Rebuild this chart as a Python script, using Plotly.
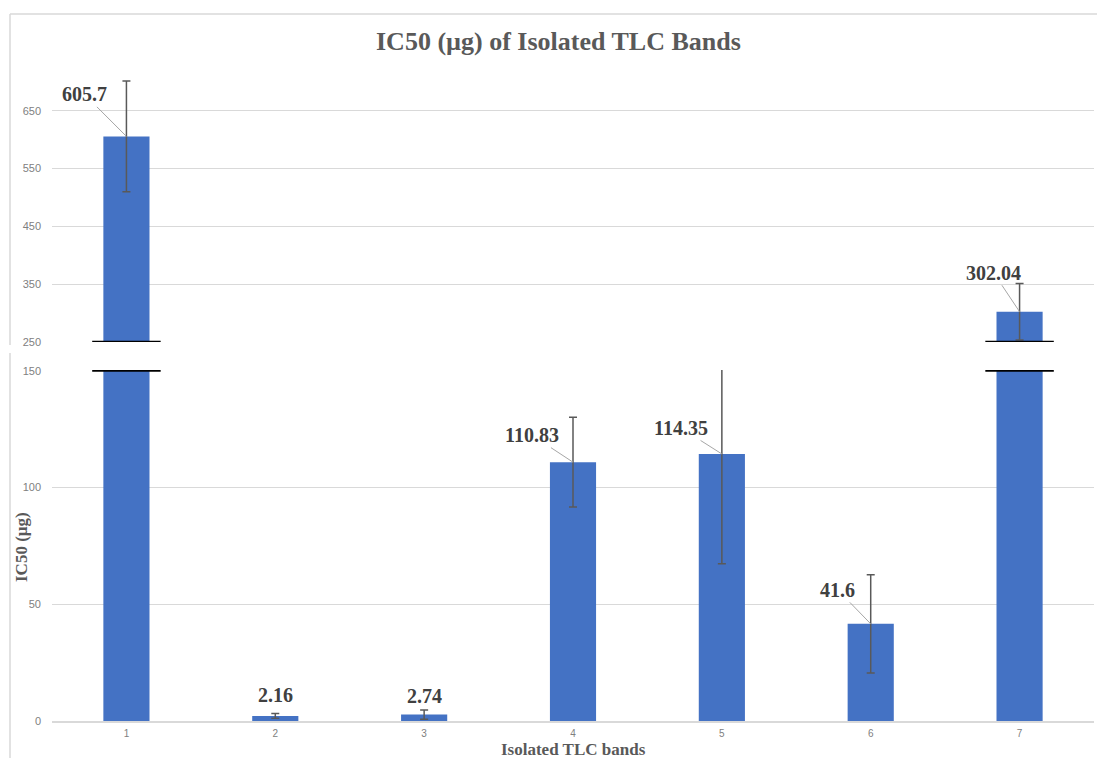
import plotly.graph_objects as go

# ---- data ----
categories = ["1", "2", "3", "4", "5", "6", "7"]
ic50_values = [605.7, 2.16, 2.74, 110.83, 114.35, 41.6, 302.04]
ic50_errors = [96.0, 1.0, 2.0, 19.2, 47.0, 21.0, 49.0]
label_texts = ["605.7", "2.16", "2.74", "110.83", "114.35", "41.6", "302.04"]
lower_ticks = [0, 50, 100, 150]
upper_ticks = [250, 350, 450, 550, 650]
lower_range = [0, 150]
upper_range = [250, 738]

# ---- styling ----
label_offsets = [(-42, -42), (0, -21), (0, -19), (-41, -27), (-41, -26), (-33, -34), (-26, -39)]
BAR = "#4472C4"
GRID = "#d9d9d9"
ERR = "#595959"
TXT = "#404040"
TICK = "#808080"
SERIF = "Liberation Serif, Times New Roman, serif"
SANS = "Liberation Sans, Arial, sans-serif"

W, H = 1097, 758
ML, MR, MT, MB = 52, 3, 60, 37
PW = W - ML - MR
PH = H - MT - MB


def px_x(px):
    return (px - ML) / PW


def px_y(py):
    return (H - MB - py) / PH


lower_top = px_y(370)
upper_bottom = px_y(342)

fig = go.Figure()
for xa, ya in (("x", "y"), ("x2", "y2")):
    fig.add_trace(go.Bar(
        x=categories, y=ic50_values, xaxis=xa, yaxis=ya,
        marker=dict(color=BAR, line=dict(width=0)),
        width=0.31,
        error_y=dict(type="data", array=ic50_errors, visible=True,
                     color=ERR, thickness=1.5, width=4),
        showlegend=False, hoverinfo="skip",
    ))

shapes = []
# break marks on bars that cross the gap
for i, v in enumerate(ic50_values):
    if v > lower_range[1]:
        shapes.append(dict(type="line", xref="x", yref="y", x0=i - 0.23, x1=i + 0.23,
                           y0=lower_range[1], y1=lower_range[1], line=dict(color="black", width=2)))
        shapes.append(dict(type="line", xref="x2", yref="y2", x0=i - 0.23, x1=i + 0.23,
                           y0=upper_range[0], y1=upper_range[0], line=dict(color="black", width=2)))

# outer frame
fc = dict(color=GRID, width=1.5)
shapes.append(dict(type="line", xref="paper", yref="paper", x0=px_x(10), x1=px_x(1097),
                   y0=px_y(14), y1=px_y(14), line=fc))
shapes.append(dict(type="line", xref="paper", yref="paper", x0=px_x(10), x1=px_x(10),
                   y0=px_y(14), y1=px_y(345), line=fc))
shapes.append(dict(type="line", xref="paper", yref="paper", x0=px_x(10), x1=px_x(10),
                   y0=px_y(353), y1=px_y(770), line=fc))

annotations = []
for i, (v, t) in enumerate(zip(ic50_values, label_texts)):
    ax, ay = label_offsets[i]
    upper = v > lower_range[1]
    xr, yr = ("x2", "y2") if upper else ("x", "y")
    font = dict(family=SERIF, size=20, color=TXT)
    if ax == 0:
        annotations.append(dict(x=i, y=v, xref=xr, yref=yr, text=f"<b>{t}</b>",
                                showarrow=False, yshift=-ay, font=font))
    else:
        annotations.append(dict(x=i, y=v, xref=xr, yref=yr, text=f"<b>{t}</b>",
                                showarrow=True, arrowhead=0, arrowwidth=1, arrowcolor="#a6a6a6",
                                ax=ax, ay=ay, font=font))

annotations.append(dict(xref="paper", yref="paper", x=px_x(558), y=px_y(42),
                        text="<b>IC50 (µg) of Isolated TLC Bands</b>", showarrow=False,
                        font=dict(family=SERIF, size=26, color="#595959"),
                        xanchor="center", yanchor="middle"))
annotations.append(dict(xref="paper", yref="paper", x=px_x(21), y=px_y(547),
                        text="<b>IC50 (µg)</b>", showarrow=False, textangle=-90,
                        font=dict(family=SERIF, size=17, color="#595959"),
                        xanchor="center", yanchor="middle"))
annotations.append(dict(xref="paper", yref="paper", x=px_x(573), y=px_y(749),
                        text="<b>Isolated TLC bands</b>", showarrow=False,
                        font=dict(family=SERIF, size=17, color="#595959"),
                        xanchor="center", yanchor="middle"))

fig.update_layout(
    width=W, height=H,
    margin=dict(l=ML, r=MR, t=MT, b=MB),
    paper_bgcolor="white", plot_bgcolor="white",
    xaxis=dict(domain=[0, 1], anchor="y", type="category", range=[-0.5, 6.5],
               showline=True, linecolor=GRID, linewidth=1.5,
               showgrid=False, ticks="", tickfont=dict(family=SANS, size=10, color=TICK),
               ticklabelstandoff=2),
    xaxis2=dict(domain=[0, 1], anchor="y2", type="category", matches="x", showticklabels=False,
                showline=False, showgrid=False, ticks=""),
    yaxis=dict(domain=[0, lower_top], range=[lower_range[0], lower_range[1] + 0.3],
               tickvals=lower_ticks, showgrid=True, gridcolor=GRID, gridwidth=1.2,
               zeroline=False, showline=False, ticks="",
               tickfont=dict(family=SANS, size=11, color=TICK), ticklabelstandoff=10),
    yaxis2=dict(domain=[upper_bottom, 1], range=[upper_range[0] - 0.4, upper_range[1]],
                tickvals=upper_ticks, showgrid=True, gridcolor=GRID, gridwidth=1.2,
                zeroline=False, showline=False, ticks="",
                tickfont=dict(family=SANS, size=11, color=TICK), ticklabelstandoff=10),
    shapes=shapes,
    annotations=annotations,
)

fig.write_html("out.html", config={"displayModeBar": False},
               post_script="document.body.style.margin='0';document.body.style.overflow='hidden';")
